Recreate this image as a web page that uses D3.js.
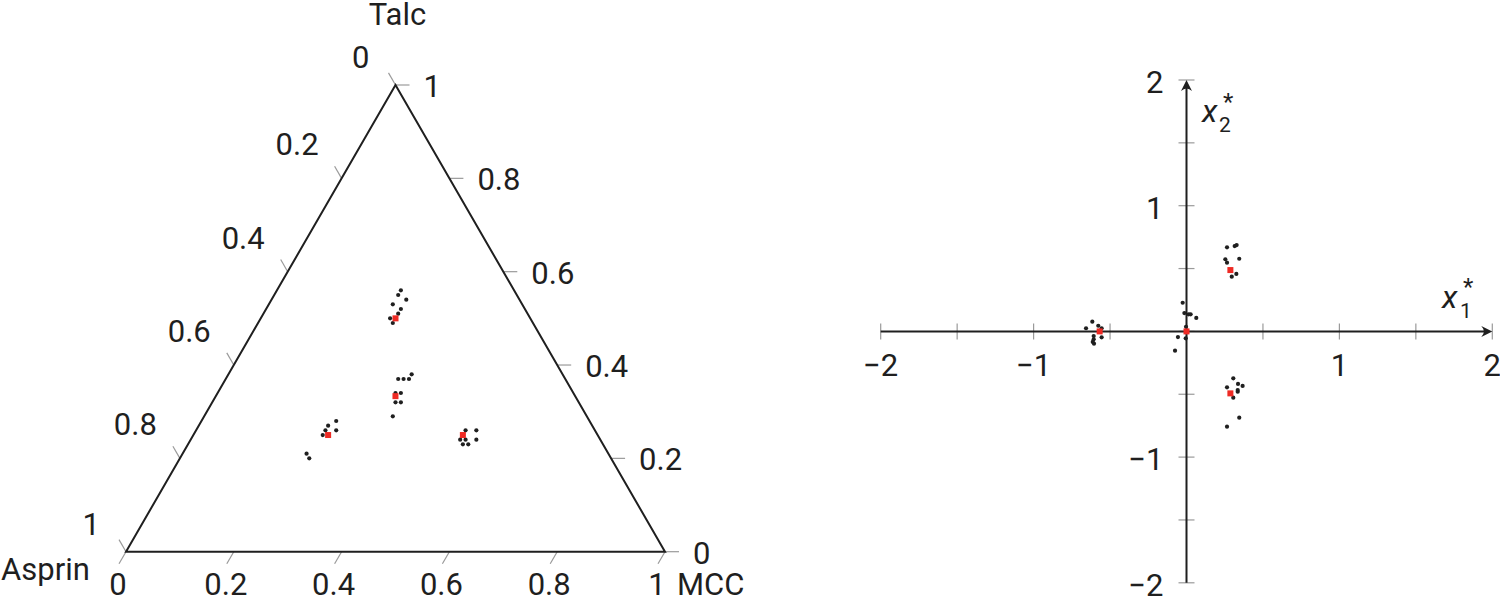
<!DOCTYPE html>
<html>
<head>
<meta charset="utf-8">
<script src="https://cdn.jsdelivr.net/npm/d3@7"></script>
<style>
  body { margin: 0; background: #fff; }
  svg text { font-family: Roboto, "Noto Sans", sans-serif; fill: #1f1f1f; }
</style>
</head>
<body>
<svg id="chart" width="1500" height="602"></svg>
<script>
// ternary data (Asprin, MCC, Talc)
var triAsprin = [0.21,0.22,0.21,0.24,0.23,0.24,0.26,0.26,
                 0.28,0.31,0.30,0.29,0.33,0.32,0.34,0.33,0.36,
                 0.47,0.49,0.50,0.48,0.51,0.56,0.56,
                 0.24,0.22,0.26,0.25,0.23,0.26,0.25];
var triMcc    = [0.23,0.23,0.25,0.23,0.25,0.25,0.24,0.25,
                 0.34,0.32,0.33,0.34,0.33,0.34,0.34,0.35,0.35,
                 0.25,0.24,0.24,0.26,0.24,0.23,0.24,
                 0.50,0.52,0.50,0.51,0.53,0.51,0.52];
var triTalc   = [0.56,0.55,0.54,0.53,0.52,0.51,0.50,0.49,
                 0.38,0.37,0.37,0.37,0.34,0.34,0.32,0.32,0.29,
                 0.28,0.27,0.26,0.26,0.25,0.21,0.20,
                 0.26,0.26,0.24,0.24,0.24,0.23,0.23];
// design points (red)
var triDesignAsprin = [0.25,0.3333,0.50,0.25];
var triDesignMcc    = [0.25,0.3333,0.25,0.50];
var triDesignTalc   = [0.50,0.3333,0.25,0.25];

var triTicks = [0,0.2,0.4,0.6,0.8,1];
var triTickLabels = ["0","0.2","0.4","0.6","0.8","1"];

// transformed data
var x1 = [0.265,0.315,0.328,0.254,0.265,0.345,0.296,0.326,
          -0.025,-0.014,0.014,0.027,0.064,-0.003,-0.056,-0.005,-0.075,
          -0.616,-0.657,-0.577,-0.555,-0.555,-0.607,-0.607,-0.613,-0.605,
          0.306,0.337,0.367,0.265,0.335,0.335,0.306,0.345,0.265];
var x2 = [0.669,0.679,0.687,0.574,0.547,0.578,0.435,0.457,
          0.228,0.146,0.136,0.136,0.107,0.037,-0.045,-0.055,-0.153,
          0.077,0.025,0.045,0.025,-0.047,-0.037,-0.063,-0.084,-0.098,
          -0.373,-0.418,-0.434,-0.445,-0.466,-0.480,-0.527,-0.686,-0.758];
var designX1 = [0.287,0,-0.568,0.287];
var designX2 = [0.488,0,0,-0.493];

var axTicks = [-2,-1.5,-1,-0.5,0,0.5,1,1.5,2];
var axLabelVals = [-2,-1,1,2];

var svg = d3.select("#chart");
var ink = "#1f1f1f", tickCol = "#9a9a9a", red = "#ee2a24";

// ---------- ternary ----------
var tx = d3.scaleLinear().domain([0,1]).range([126,665]);
var ty = d3.scaleLinear().domain([0,1]).range([551.7,85]);
function tern(m, t){ return [tx(m + t/2), ty(t)]; }

var tri = svg.append("g");
var corners = [tern(0,0), tern(1,0), tern(0,1)];
var L = 14;

// left axis (Asprin): a=v, t=1-v
tri.selectAll(".tl").data(triTicks).enter().append("line")
  .attr("x1", function(v){ return tern(0,1-v)[0]; })
  .attr("y1", function(v){ return tern(0,1-v)[1]; })
  .attr("x2", function(v){ return tern(0,1-v)[0] - 0.5*L; })
  .attr("y2", function(v){ return tern(0,1-v)[1] - 0.866*L; })
  .attr("stroke", tickCol).attr("stroke-width", 1.2);
tri.selectAll(".ll").data(triTicks).enter().append("text")
  .attr("text-anchor","end").attr("font-size",31)
  .attr("x", function(v,i){ return tern(0,1-v)[0] - (triTickLabels[i].length > 1 ? 23 : 26); })
  .attr("y", function(v,i){ return tern(0,1-v)[1] - (triTickLabels[i].length > 1 ? 34 : 28) + 11; })
  .text(function(v,i){ return triTickLabels[i]; });

// bottom axis (MCC)
tri.selectAll(".tb").data(triTicks).enter().append("line")
  .attr("x1", function(v){ return tern(v,0)[0]; })
  .attr("y1", function(v){ return tern(v,0)[1]; })
  .attr("x2", function(v){ return tern(v,0)[0] - 0.5*L; })
  .attr("y2", function(v){ return tern(v,0)[1] + 0.866*L; })
  .attr("stroke", tickCol).attr("stroke-width", 1.2);
tri.selectAll(".lb").data(triTicks).enter().append("text")
  .attr("text-anchor","middle").attr("font-size",31)
  .attr("x", function(v){ return tern(v,0)[0] - 8; })
  .attr("y", 595)
  .text(function(v,i){ return triTickLabels[i]; });

// right axis (Talc): t=v, m=1-v
tri.selectAll(".tr").data(triTicks).enter().append("line")
  .attr("x1", function(v){ return tern(1-v,v)[0]; })
  .attr("y1", function(v){ return tern(1-v,v)[1]; })
  .attr("x2", function(v){ return tern(1-v,v)[0] + L; })
  .attr("y2", function(v){ return tern(1-v,v)[1]; })
  .attr("stroke", tickCol).attr("stroke-width", 1.2);
tri.selectAll(".lr").data(triTicks).enter().append("text")
  .attr("text-anchor","start").attr("font-size",31)
  .attr("x", function(v){ return tern(1-v,v)[0] + 28; })
  .attr("y", function(v){ return tern(1-v,v)[1] + 12; })
  .text(function(v,i){ return triTickLabels[i]; });

tri.append("path")
  .attr("d", d3.line()(corners) + "Z")
  .attr("fill","none").attr("stroke", ink).attr("stroke-width", 2);

tri.append("text").attr("text-anchor","middle").attr("font-size",31)
  .attr("x",397.5).attr("y",25).text("Talc");
tri.append("text").attr("text-anchor","start").attr("font-size",31)
  .attr("x",1).attr("y",580).text("Asprin");
tri.append("text").attr("text-anchor","start").attr("font-size",31)
  .attr("x",677).attr("y",595).text("MCC");

tri.selectAll(".pt").data(triMcc).enter().append("circle")
  .attr("cx", function(m,i){ return tern(m, triTalc[i])[0]; })
  .attr("cy", function(m,i){ return tern(m, triTalc[i])[1]; })
  .attr("r", 2.1).attr("fill", ink);
tri.selectAll(".dp").data(triDesignMcc).enter().append("rect")
  .attr("x", function(m,i){ return tern(m, triDesignTalc[i])[0] - 3; })
  .attr("y", function(m,i){ return tern(m, triDesignTalc[i])[1] - 3; })
  .attr("width", 6).attr("height", 6).attr("fill", red);

// ---------- cartesian ----------
var xs = d3.scaleLinear().domain([-2,2]).range([880.7,1492.3]);
var ys = d3.scaleLinear().domain([-2,2]).range([582.8,80]);
var fmt = d3.format("");
var cart = svg.append("g");

cart.selectAll(".xt").data(axTicks).enter().append("line")
  .attr("x1", xs).attr("x2", xs)
  .attr("y1", ys(0) - 8).attr("y2", ys(0) + 8)
  .attr("stroke", tickCol).attr("stroke-width", 1.2);
cart.selectAll(".yt").data(axTicks).enter().append("line")
  .attr("y1", ys).attr("y2", ys)
  .attr("x1", xs(0) - 8).attr("x2", xs(0) + 8)
  .attr("stroke", tickCol).attr("stroke-width", 1.2);

cart.append("line").attr("x1", xs(-2)).attr("x2", xs(2) - 6)
  .attr("y1", ys(0)).attr("y2", ys(0)).attr("stroke", ink).attr("stroke-width", 2);
cart.append("line").attr("y1", ys(-2)).attr("y2", ys(2) + 6)
  .attr("x1", xs(0)).attr("x2", xs(0)).attr("stroke", ink).attr("stroke-width", 2);

var ax = xs(2), ay = ys(0);
cart.append("path")
  .attr("d", "M" + ax + "," + ay + "L" + (ax-11) + "," + (ay-5.5) + "Q" + (ax-6) + "," + ay + " " + (ax-11) + "," + (ay+5.5) + "Z")
  .attr("fill", ink);
var bx = xs(0), by = ys(2);
cart.append("path")
  .attr("d", "M" + bx + "," + by + "L" + (bx-5.5) + "," + (by+11) + "Q" + bx + "," + (by+6) + " " + (bx+5.5) + "," + (by+11) + "Z")
  .attr("fill", ink);

cart.selectAll(".xl").data(axLabelVals).enter().append("text")
  .attr("text-anchor","middle").attr("font-size",31)
  .attr("x", xs).attr("y", ys(0) + 45)
  .text(fmt);
cart.selectAll(".yl").data(axLabelVals).enter().append("text")
  .attr("text-anchor","end").attr("font-size",31)
  .attr("x", xs(0) - 23).attr("y", function(v){ return ys(v) + 13; })
  .text(fmt);

// axis titles
cart.append("text").attr("font-size",32).attr("font-style","italic")
  .attr("x",1442).attr("y",308).text("x");
cart.append("text").attr("font-size",21).attr("x",1460).attr("y",318).text("1");
cart.append("text").attr("font-size",24).attr("x",1463).attr("y",295).text("*");
cart.append("text").attr("font-size",32).attr("font-style","italic")
  .attr("x",1202).attr("y",122).text("x");
cart.append("text").attr("font-size",21).attr("x",1219).attr("y",132).text("2");
cart.append("text").attr("font-size",24).attr("x",1223).attr("y",110).text("*");

cart.selectAll(".pt").data(x1).enter().append("circle")
  .attr("cx", function(d){ return xs(d); })
  .attr("cy", function(d,i){ return ys(x2[i]); })
  .attr("r", 2.1).attr("fill", ink);
cart.selectAll(".dp").data(designX1).enter().append("rect")
  .attr("x", function(d){ return xs(d) - 3; })
  .attr("y", function(d,i){ return ys(designX2[i]) - 3; })
  .attr("width", 6).attr("height", 6).attr("fill", red);
</script>
</body>
</html>
